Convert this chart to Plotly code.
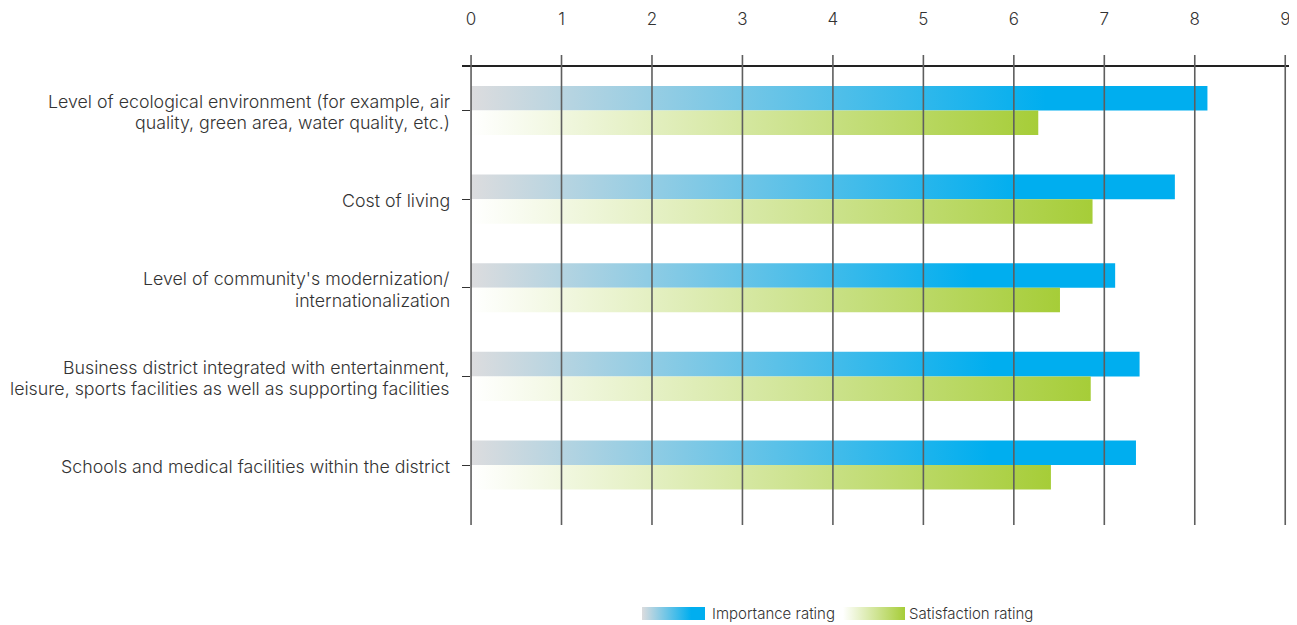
import plotly.graph_objects as go

categories = [
    "Level of ecological environment (for example, air<br>quality, green area, water quality, etc.)",
    "Cost of living",
    "Level of community's modernization/<br>internationalization",
    "Business district integrated with entertainment,<br>leisure, sports facilities as well as supporting facilities",
    "Schools and medical facilities within the district",
]
importance = [8.14, 7.78, 7.12, 7.39, 7.35]
satisfaction = [6.27, 6.87, 6.51, 6.85, 6.41]
x_ticks = [0, 1, 2, 3, 4, 5, 6, 7, 8, 9]
series_names = ["Importance rating", "Satisfaction rating"]

# page offset (browser body margin)
OFF = 8
W, H = 1297 - OFF, 625 - OFF
FONT = "Inter, Liberation Sans, Arial, sans-serif"
TXT = "#333333"
GRID = "#5e5e5e"
LBL_SIZE = 17.8


def px_x(x):
    return (x - OFF) / W


def px_y(y):
    return (H - (y - OFF)) / H


blue_scale = [[0, "#dcdcde"], [0.78, "#00aeef"], [1, "#00aeef"]]
green_scale = [[0, "#ffffff"], [1, "#a6cd38"]]

BAR_H = 0.277

fig = go.Figure()


def bar_trace(value, y0, y1, scale):
    return go.Scatter(
        x=[0, value, value, 0, 0],
        y=[y0, y0, y1, y1, y0],
        mode="lines",
        line=dict(width=0),
        fill="toself",
        fillgradient=dict(type="horizontal", colorscale=scale, start=0, stop=value),
        showlegend=False,
        hoverinfo="skip",
        xaxis="x",
        yaxis="y",
    )


for i, (imp, sat) in enumerate(zip(importance, satisfaction)):
    fig.add_trace(bar_trace(imp, i - BAR_H, i, blue_scale))
    fig.add_trace(bar_trace(sat, i, i + BAR_H, green_scale))

# category labels, right aligned next to the axis ticks
LINE_GAP = 21.5
for i, cat in enumerate(categories):
    lines = cat.split("<br>")
    n = len(lines)
    for k, ln in enumerate(lines):
        shift = ((n - 1) / 2 - k) * LINE_GAP - 1.5
        fig.add_annotation(
            x=px_x(451), y=i, xref="paper", yref="y", text=ln, showarrow=False,
            xanchor="right", yanchor="middle", yshift=shift, borderpad=0,
            font=dict(family=FONT, size=LBL_SIZE, color=TXT, weight=300),
        )

# legend swatches (helper axes in reference-pixel space, bottom strip only)
LEG_TOP = 585
swatches = [(642, 705, blue_scale), (843, 905, green_scale)]
label_x = [710, 907]
for (x0, x1, sc), name, lx in zip(swatches, series_names, label_x):
    fig.add_trace(go.Scatter(
        x=[x0, x1, x1, x0, x0], y=[607, 607, 620, 620, 607],
        mode="lines", line=dict(width=0), fill="toself",
        fillgradient=dict(type="horizontal", colorscale=sc, start=x0, stop=x1),
        showlegend=False, hoverinfo="skip", xaxis="x2", yaxis="y2",
    ))
    fig.add_annotation(
        x=lx, y=613.5, xref="x2", yref="y2", text=name, showarrow=False,
        xanchor="left", yanchor="middle",
        font=dict(family=FONT, size=15, color=TXT, weight=300),
    )

# vertical grid lines drawn above the bars
for t in x_ticks:
    fig.add_shape(type="line", xref="x", yref="paper", x0=t, x1=t,
                  y0=px_y(525), y1=px_y(55),
                  line=dict(color=GRID, width=1.6), layer="above")

fig.update_layout(
    width=W, height=H,
    margin=dict(l=0, r=0, t=0, b=0),
    paper_bgcolor="white", plot_bgcolor="rgba(0,0,0,0)",
    font=dict(family=FONT, color=TXT, size=17),
    xaxis=dict(
        domain=[px_x(462), 1], range=[-0.1, 9.13], side="top",
        tickvals=x_ticks, ticks="", showgrid=False, zeroline=False,
        showline=True, linecolor="#222222", linewidth=1.5,
        tickfont=dict(family=FONT, size=17, color=TXT, weight=300), ticklabelstandoff=33,
        automargin=False, anchor="y", layer="above traces",
    ),
    yaxis=dict(
        domain=[px_y(525), px_y(67)], range=[4.677, -0.491],
        tickvals=list(range(len(categories))), ticktext=[""] * len(categories),
        ticks="inside", ticklen=8, tickcolor="#333333", tickwidth=1.3,
        showgrid=False, zeroline=False, showline=False,
        automargin=False, anchor="x",
    ),
    xaxis2=dict(domain=[0, 1], range=[OFF, 1297], visible=False, anchor="y2", fixedrange=True),
    yaxis2=dict(domain=[0, px_y(LEG_TOP)], range=[625, LEG_TOP], visible=False,
                anchor="x2", fixedrange=True),
)

fig.write_html("out.html")
